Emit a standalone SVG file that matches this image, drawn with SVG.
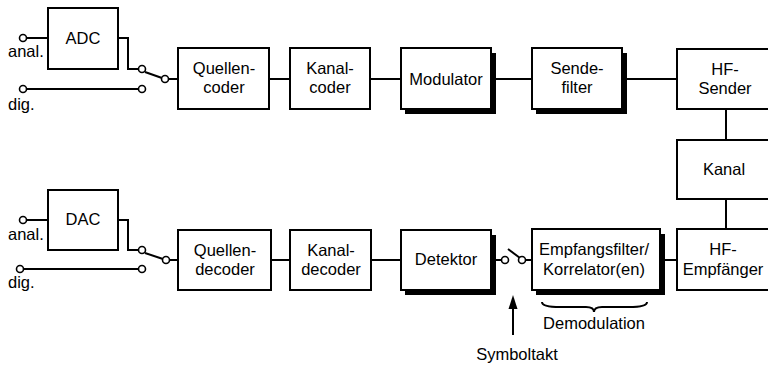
<svg xmlns="http://www.w3.org/2000/svg" width="768" height="365" viewBox="0 0 768 365">
<style>
.box{fill:#fff;stroke:#000;stroke-width:2}
.sh{fill:#000}
.ln{fill:none;stroke:#000;stroke-width:2}
.term{fill:#fff;stroke:#000;stroke-width:1.6}
text{font-family:"Liberation Sans",Arial,sans-serif;font-size:16.5px;fill:#000}
.c{text-anchor:middle}
</style>
<g id="connectors">
<line class="ln" x1="26" y1="38" x2="48" y2="38"/>
<polyline class="ln" points="118,38 128,38 128,69 139,69"/>
<line class="ln" x1="145" y1="72" x2="162" y2="78"/>
<line class="ln" x1="26" y1="89" x2="138" y2="89"/>
<line class="ln" x1="168" y1="79" x2="178" y2="79"/>
<line class="ln" x1="269" y1="79" x2="290" y2="79"/>
<line class="ln" x1="370" y1="79" x2="401" y2="79"/>
<line class="ln" x1="491" y1="79" x2="532" y2="79"/>
<line class="ln" x1="622" y1="79" x2="677" y2="79"/>
<line class="ln" x1="726" y1="109" x2="726" y2="140"/>
<line class="ln" x1="726" y1="199" x2="726" y2="229"/>
<line class="ln" x1="26" y1="220" x2="48" y2="220"/>
<polyline class="ln" points="118,220 128,220 128,250 139,250"/>
<line class="ln" x1="145" y1="253" x2="163" y2="259"/>
<line class="ln" x1="23" y1="269" x2="139" y2="269"/>
<line class="ln" x1="169" y1="260" x2="178" y2="260"/>
<line class="ln" x1="271" y1="260" x2="290" y2="260"/>
<line class="ln" x1="371" y1="260" x2="401" y2="260"/>
<line class="ln" x1="491" y1="260" x2="502" y2="260"/>
<line class="ln" x1="508" y1="249" x2="520" y2="258"/>
<line class="ln" x1="525" y1="260" x2="532" y2="260"/>
<line class="ln" x1="660" y1="260" x2="677" y2="260"/>
<line class="ln" x1="513" y1="335" x2="513" y2="306"/>
<polygon points="513,295 517.5,309 508.5,309" fill="#000"/>
<path class="ln" d="M542,302 Q542,307 560,307 L586,307 Q594,307 594,312 Q594,307 602,307 L629,307 Q647,307 647,302" stroke-width="1"/>
<circle class="term" cx="23" cy="38" r="3.5"/>
<circle class="term" cx="142" cy="69" r="3.5"/>
<circle class="term" cx="165" cy="79" r="3.5"/>
<circle class="term" cx="23" cy="89" r="3.5"/>
<circle class="term" cx="142" cy="89" r="3.5"/>
<circle class="term" cx="23" cy="220" r="3.5"/>
<circle class="term" cx="142" cy="250" r="3.5"/>
<circle class="term" cx="166" cy="260" r="3.5"/>
<circle class="term" cx="20" cy="269" r="3.5"/>
<circle class="term" cx="142" cy="269" r="3.5"/>
<circle class="term" cx="505" cy="260" r="3.5"/>
<circle class="term" cx="522" cy="260" r="3.5"/>
</g>
<g id="adc"><rect class="box" x="48" y="8" width="70" height="61"/><text class="c" x="83" y="44">ADC</text></g>
<g id="quellencoder"><rect class="box" x="178" y="48" width="91" height="61"/><text class="c" x="224" y="74">Quellen-</text><text class="c" x="224" y="93">coder</text></g>
<g id="kanalcoder"><rect class="box" x="290" y="48" width="80" height="61"/><text class="c" x="330" y="74">Kanal-</text><text class="c" x="330" y="93">coder</text></g>
<g id="modulator"><rect class="sh" x="405" y="53" width="91" height="61"/><rect class="box" x="401" y="48" width="90" height="61"/><text class="c" x="446" y="85">Modulator</text></g>
<g id="sendefilter"><rect class="sh" x="536" y="53" width="91" height="61"/><rect class="box" x="532" y="48" width="90" height="61"/><text class="c" x="577" y="74">Sende-</text><text class="c" x="577" y="93">filter</text></g>
<g id="hfsender"><rect class="box" x="677" y="49" width="96" height="60"/><text class="c" x="725" y="75">HF-</text><text class="c" x="725" y="94">Sender</text></g>
<g id="kanal"><rect class="box" x="677" y="140" width="96" height="59"/><text class="c" x="724" y="175">Kanal</text></g>
<g id="dac"><rect class="box" x="48" y="190" width="70" height="60"/><text class="c" x="83" y="225">DAC</text></g>
<g id="quellendecoder"><rect class="box" x="178" y="230" width="93" height="60"/><text class="c" x="225" y="256">Quellen-</text><text class="c" x="225" y="275">decoder</text></g>
<g id="kanaldecoder"><rect class="box" x="290" y="230" width="81" height="60"/><text class="c" x="331" y="256">Kanal-</text><text class="c" x="331" y="275">decoder</text></g>
<g id="detektor"><rect class="sh" x="405" y="235" width="91" height="60"/><rect class="box" x="401" y="230" width="90" height="60"/><text class="c" x="446" y="265">Detektor</text></g>
<g id="empfangsfilter"><rect class="sh" x="536" y="234" width="129" height="61"/><rect class="box" x="532" y="229" width="128" height="61"/><text class="c" x="594" y="255">Empfangsfilter/</text><text class="c" x="594" y="275">Korrelator(en)</text></g>
<g id="hfempfaenger"><rect class="box" x="677" y="229" width="96" height="61"/><text class="c" x="723" y="255">HF-</text><text class="c" x="723" y="275">Empfänger</text></g>
<g id="labels">
<text x="8" y="57">anal.</text>
<text x="8" y="110">dig.</text>
<text x="8" y="240">anal.</text>
<text x="8" y="288">dig.</text>
<text class="c" x="594" y="329">Demodulation</text>
<text class="c" x="517" y="360">Symboltakt</text>
</g>
</svg>
